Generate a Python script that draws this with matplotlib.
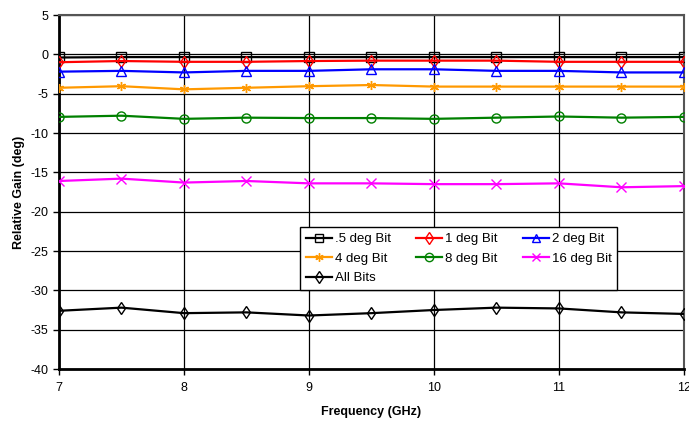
import matplotlib.pyplot as plt
from matplotlib.lines import Line2D

plt.rcParams['font.family'] = ['Liberation Sans', 'DejaVu Sans']
plt.rcParams['axes.unicode_minus'] = False

freq = [7, 7.5, 8, 8.5, 9, 9.5, 10, 10.5, 11, 11.5, 12]

bit_05 = [-0.4, -0.35, -0.35, -0.35, -0.35, -0.35, -0.35, -0.35, -0.35, -0.35, -0.35]
bit_1 = [-1.0, -0.85, -0.95, -0.95, -0.85, -0.8, -0.8, -0.8, -0.95, -0.95, -0.95]
bit_2 = [-2.2, -2.1, -2.3, -2.1, -2.1, -1.9, -1.9, -2.1, -2.1, -2.3, -2.3]
bit_4 = [-4.25, -4.05, -4.45, -4.25, -4.05, -3.9, -4.1, -4.1, -4.1, -4.1, -4.1]
bit_8 = [-7.95, -7.8, -8.2, -8.05, -8.1, -8.1, -8.2, -8.05, -7.9, -8.05, -7.95]
bit_16 = [-16.1, -15.8, -16.3, -16.1, -16.4, -16.4, -16.5, -16.5, -16.4, -16.9, -16.75]
all_bits = [-32.6, -32.2, -32.9, -32.8, -33.2, -32.9, -32.5, -32.2, -32.3, -32.8, -33.0]

labels = ['.5 deg Bit', '1 deg Bit', '2 deg Bit', '4 deg Bit', '8 deg Bit', '16 deg Bit', 'All Bits']
colors = ['black', 'red', 'blue', '#FF9900', 'green', 'magenta', 'black']
markers = ['s', 'd', '^', (6, 2, 0), 'o', 'x', 'd']
series = [bit_05, bit_1, bit_2, bit_4, bit_8, bit_16, all_bits]

fig = plt.figure(figsize=(6.89, 4.24), dpi=100)
ax = fig.add_axes([0.0856, 0.1297, 0.9071, 0.8349])

for vals, lab, col, mk in zip(series, labels, colors, markers):
    ax.plot(freq, vals, color=col, lw=1.6, marker=mk, markersize=6.5,
            markerfacecolor='none', markeredgecolor=col, markeredgewidth=1.0,
            label=lab, zorder=3)

ax.set_xlim(7, 12)
ax.set_ylim(-40, 5)
ax.set_xticks(range(7, 13))
ax.set_yticks(range(-40, 6, 5))
ax.grid(True, color='black', lw=0.9)
ax.set_axisbelow(True)

for side in ['top', 'right']:
    ax.spines[side].set_color('#555555')
    ax.spines[side].set_linewidth(1.5)
for side in ['left', 'bottom']:
    ax.spines[side].set_color('black')
    ax.spines[side].set_linewidth(2)

ax.tick_params(labelsize=9, length=4, width=1, direction='out')
ax.tick_params(axis='x', pad=5)
ax.set_xlabel('Frequency (GHz)', fontsize=9, fontweight='bold', labelpad=9)
ax.set_ylabel('Relative Gain (deg)', fontsize=9, fontweight='bold', labelpad=4)

# legend fills columns first; order so rows read like the reference
order = [0, 3, 6, 1, 4, 2, 5]
handles = [Line2D([], [], color=colors[i], lw=1.6, marker=markers[i], markersize=6,
                  markerfacecolor='none', markeredgecolor=colors[i])
           for i in order]
leg = ax.legend(handles, [labels[i] for i in order], ncol=3, loc='upper left',
                bbox_to_anchor=(300 / 689, 1 - 227 / 424),
                bbox_transform=fig.transFigure, borderaxespad=0, fontsize=9.5,
                frameon=True, fancybox=False, edgecolor='black',
                framealpha=1, handlelength=2.0, handletextpad=0.2,
                columnspacing=1.9, labelspacing=0.55, borderpad=0.45)
leg.get_frame().set_linewidth(1.0)

fig.savefig('out.png', dpi=100)
